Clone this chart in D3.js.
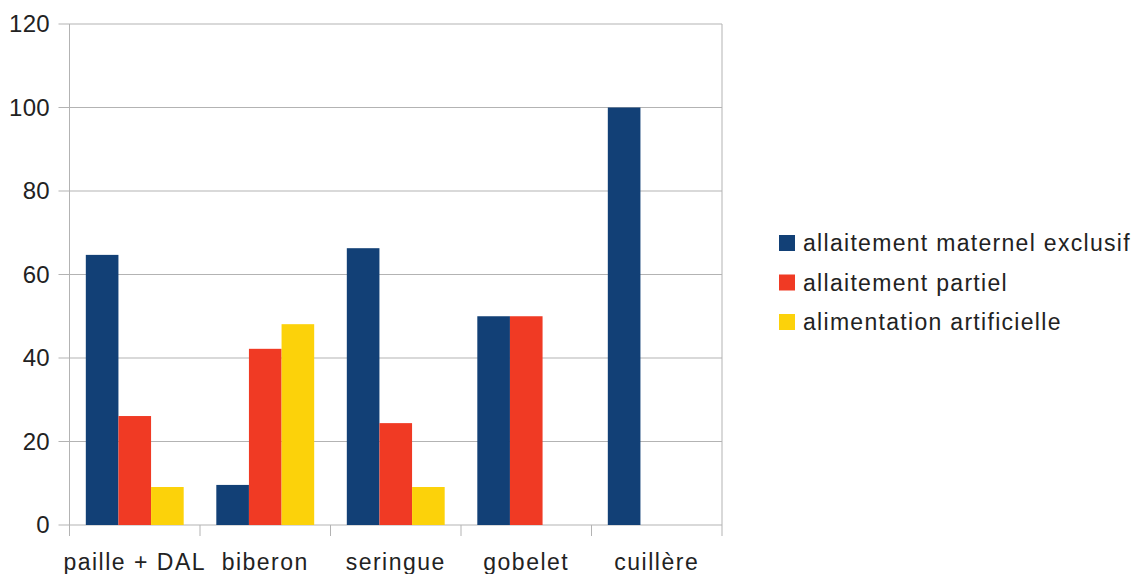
<!DOCTYPE html>
<html><head><meta charset="utf-8">
<script src="https://cdn.jsdelivr.net/npm/d3@7"></script>
<style>body{margin:0;background:#fff}svg{display:block}</style>
</head><body>
<svg id="c" width="1136" height="574"></svg>
<script>
const categories = ["paille + DAL", "biberon", "seringue", "gobelet", "cuillère"];
const seriesNames = ["allaitement maternel exclusif", "allaitement partiel", "alimentation artificielle"];
const exclusif = [64.7, 9.6, 66.3, 50, 100];
const partiel = [26.1, 42.2, 24.4, 50, 0];
const artificielle = [9.1, 48.1, 9.1, 0, 0];
const yTicks = [0, 20, 40, 60, 80, 100, 120];
const colors = ["#124076", "#f03a24", "#fcd20a"];

const series = [exclusif, partiel, artificielle];
const svg = d3.select("#c");
const L = 69.5, R = 722, T = 24, B = 525;
const font = "'Liberation Sans', Arial, sans-serif";
const x = d3.scaleBand().domain(categories).range([L, R]).padding(0);
const bw = x.bandwidth();
const x1 = d3.scaleBand().domain(d3.range(3)).range([bw/8, bw*7/8]).padding(0);
const y = d3.scaleLinear().domain([0, 120]).range([B, T]);
const grid = "#b3b3b3";

// gridlines
svg.append("g").selectAll("line").data(yTicks).join("line")
  .attr("x1", L - 11).attr("x2", R).attr("y1", d => y(d)).attr("y2", d => y(d))
  .attr("stroke", grid).attr("stroke-width", 1);
// vertical borders / category ticks
const xt = categories.map(c => x(c)).concat([R]);
svg.append("g").selectAll("line").data(xt).join("line")
  .attr("x1", d => d).attr("x2", d => d).attr("y1", (d, i) => (i === 0 || i === xt.length - 1) ? T : B).attr("y2", B + 11)
  .attr("stroke", grid).attr("stroke-width", 1);

// bars
series.forEach((vals, si) => {
  svg.append("g").selectAll("rect").data(vals).join("rect")
    .attr("x", (d, i) => x(categories[i]) + x1(si))
    .attr("width", x1.bandwidth())
    .attr("y", d => y(d))
    .attr("height", d => B - y(d))
    .attr("fill", colors[si]);
});

// y labels
svg.append("g").selectAll("text").data(yTicks).join("text")
  .attr("x", 50).attr("y", d => y(d)).attr("dy", "0.35em")
  .attr("text-anchor", "end").attr("font-family", font).attr("font-size", 24)
  .attr("letter-spacing", 0.3)
  .attr("fill", "#222").text(d => d);

// x labels
svg.append("g").selectAll("text").data(categories).join("text")
  .attr("x", d => x(d) + bw/2).attr("y", 570)
  .attr("text-anchor", "middle").attr("font-family", font).attr("font-size", 23)
  .attr("letter-spacing", 1.5)
  .attr("fill", "#222").text(d => d);

// legend
const lg = svg.append("g");
seriesNames.forEach((n, i) => {
  const yy = 235 + i * 39.5;
  lg.append("rect").attr("x", 779).attr("y", yy).attr("width", 16).attr("height", 16).attr("fill", colors[i]);
  lg.append("text").attr("x", 803).attr("y", yy + 8).attr("dy", "0.35em")
    .attr("font-family", font).attr("font-size", 23).attr("letter-spacing", 1.3)
    .attr("fill", "#222").text(n);
});
</script>
</body></html>
